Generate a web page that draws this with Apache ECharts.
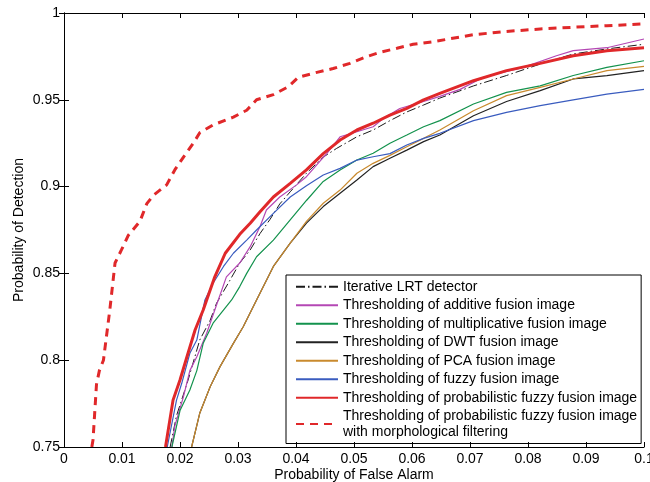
<!DOCTYPE html>
<html>
<head>
<meta charset="utf-8">
<script src="https://cdn.jsdelivr.net/npm/echarts@6/dist/echarts.min.js"></script>
<style>
  html, body { margin: 0; padding: 0; background: #fff; }
  #chart { width: 650px; height: 482px; }
</style>
</head>
<body>
<div id="chart"></div>
<script>
// ROC curves: [probability of false alarm, probability of detection]
const lrtDetector = [
  [0.0183,0.75],[0.0194,0.768],[0.0214,0.7886],[0.0234,0.8116],[0.0252,0.823],[0.0263,0.8328],
  [0.0286,0.846],[0.0303,0.856],[0.0321,0.8635],[0.0338,0.873],[0.0355,0.881],[0.0372,0.890],
  [0.039,0.897],[0.0418,0.9077],[0.0447,0.917],[0.047,0.922],[0.0505,0.9287],[0.0533,0.9326],
  [0.0562,0.938],[0.0591,0.943],[0.062,0.947],[0.0648,0.951],[0.0706,0.958],[0.0763,0.964],
  [0.0821,0.9706],[0.0878,0.9764],[0.0936,0.9793],[0.1,0.982]
];
const additiveFusion = [
  [0.0186,0.75],[0.0191,0.762],[0.0206,0.779],[0.0217,0.794],[0.0229,0.802],[0.0246,0.8155],
  [0.0266,0.8347],[0.028,0.848],[0.0303,0.856],[0.0321,0.8654],[0.0338,0.877],[0.0349,0.8865],
  [0.0372,0.894],[0.0401,0.901],[0.0418,0.9057],[0.0441,0.9145],[0.0453,0.919],[0.0476,0.9287],
  [0.0505,0.9316],[0.0533,0.9345],[0.0551,0.9393],[0.0579,0.945],[0.062,0.949],[0.0648,0.952],
  [0.0683,0.956],[0.0723,0.963],[0.0792,0.9687],[0.0849,0.9754],[0.0878,0.9783],[0.0936,0.980],
  [0.1,0.985]
];
const multiplicativeFusion = [
  [0.0186,0.75],[0.02,0.771],[0.0217,0.7828],[0.0229,0.794],[0.024,0.8097],[0.0257,0.8213],
  [0.0289,0.8347],[0.0303,0.8424],[0.0315,0.85],[0.0332,0.8596],[0.0361,0.8692],[0.039,0.8808],
  [0.0418,0.892],[0.0447,0.903],[0.0476,0.9096],[0.0505,0.9153],[0.0533,0.9192],[0.0562,0.925],
  [0.0591,0.9297],[0.062,0.9345],[0.0648,0.938],[0.0706,0.9476],[0.0763,0.9543],[0.0821,0.958],
  [0.0878,0.964],[0.0936,0.9687],[0.1,0.9725]
];
const dwtFusion = [
  [0.022,0.75],[0.0234,0.7694],[0.0252,0.7847],[0.0269,0.7963],[0.0292,0.8097],[0.0309,0.8193],
  [0.0332,0.8347],[0.0361,0.854],[0.039,0.8674],[0.0418,0.879],[0.0447,0.8885],[0.0476,0.8962],
  [0.0505,0.9038],[0.0533,0.9115],[0.0562,0.9163],[0.0591,0.921],[0.062,0.9259],[0.0648,0.9297],
  [0.0706,0.9408],[0.0763,0.949],[0.0821,0.9553],[0.0878,0.962],[0.0936,0.9639],[0.1,0.9668]
];
const pcaFusion = [
  [0.022,0.75],[0.0234,0.7694],[0.0252,0.7847],[0.0269,0.7963],[0.0292,0.8097],[0.0309,0.8193],
  [0.0332,0.8347],[0.0361,0.854],[0.039,0.8674],[0.0418,0.8800],[0.0447,0.8904],[0.0476,0.898],
  [0.0505,0.9077],[0.0533,0.9134],[0.0562,0.918],[0.0591,0.923],[0.062,0.9278],[0.0648,0.9326],
  [0.0706,0.9437],[0.0763,0.9524],[0.0821,0.9572],[0.0878,0.962],[0.0936,0.9668],[0.1,0.9693]
];
const fuzzyFusion = [
  [0.0178,0.75],[0.0194,0.777],[0.0203,0.7867],[0.0217,0.804],[0.0229,0.8116],[0.0237,0.825],
  [0.0243,0.8347],[0.0257,0.8443],[0.0275,0.854],[0.0292,0.8616],[0.0315,0.8692],[0.0332,0.875],
  [0.0361,0.8846],[0.039,0.894],[0.0418,0.9005],[0.0447,0.9067],[0.0476,0.9105],[0.0505,0.9153],
  [0.0533,0.9172],[0.0562,0.919],[0.0591,0.924],[0.062,0.9278],[0.0648,0.9307],[0.0706,0.938],
  [0.0763,0.9428],[0.0821,0.9466],[0.0878,0.95],[0.0936,0.9533],[0.1,0.956]
];
const probFuzzyFusion = [
  [0.0175,0.75],[0.0188,0.777],[0.02,0.7886],[0.0212,0.802],[0.0226,0.8174],[0.024,0.8289],
  [0.0246,0.8347],[0.026,0.848],[0.0278,0.8616],[0.0303,0.8725],[0.0321,0.8789],[0.0338,0.8855],
  [0.0361,0.894],[0.039,0.9019],[0.0418,0.9096],[0.0447,0.919],[0.0476,0.9268],[0.0505,0.9326],
  [0.0533,0.9365],[0.0562,0.9412],[0.0591,0.9451],[0.062,0.950],[0.0648,0.9537],[0.0706,0.961],
  [0.0763,0.9668],[0.0821,0.971],[0.0878,0.9754],[0.0936,0.9783],[0.1,0.980]
];
const probFuzzyMorph = [
  [0.0048,0.75],[0.005,0.754],[0.0056,0.786],[0.0061,0.794],[0.0068,0.800],[0.0079,0.829],
  [0.0088,0.856],[0.0099,0.8635],[0.0111,0.872],[0.0131,0.880],[0.01425,0.890],[0.0154,0.895],
  [0.0177,0.901],[0.0191,0.9096],[0.0206,0.917],[0.0223,0.925],[0.0234,0.931],[0.0257,0.9355],
  [0.0292,0.940],[0.0315,0.944],[0.0332,0.950],[0.0361,0.953],[0.0387,0.9576],[0.0404,0.963],
  [0.0436,0.9658],[0.0464,0.968],[0.0493,0.971],[0.0522,0.9749],[0.0545,0.9774],[0.0574,0.9797],
  [0.0602,0.982],[0.0637,0.9835],[0.0706,0.9875],[0.0763,0.9894],[0.0821,0.9908],[0.0878,0.9918],
  [0.0936,0.9927],[0.1,0.9937]
];

const seriesNames = [
  'Iterative LRT detector',
  'Thresholding of additive fusion image',
  'Thresholding of multiplicative fusion image',
  'Thresholding of DWT fusion image',
  'Thresholding of PCA fusion image',
  'Thresholding of fuzzy fusion image',
  'Thresholding of probabilistic fuzzy fusion image',
  'Thresholding of probabilistic fuzzy fusion image\nwith morphological filtering'
];
const xTicks = { min: 0, max: 0.1, interval: 0.01 };
const yTicks = { min: 0.75, max: 1, interval: 0.05 };

const FONT = "'Liberation Sans', Arial, sans-serif";

function curve(name, data, color, width, type) {
  return {
    name: name,
    type: 'line',
    data: data,
    symbol: 'none',
    showSymbol: false,
    smooth: false,
    animation: false,
    color: color,
    lineStyle: { color: color, width: width, type: type || 'solid' }
  };
}

const chart = echarts.init(document.getElementById('chart'), null, { renderer: 'canvas' });

const axisCommon = {
  type: 'value',
  axisLine: { show: true, lineStyle: { color: '#000', width: 1 } },
  axisTick: { show: true, inside: true, length: 5, lineStyle: { color: '#000', width: 1 } },
  splitLine: { show: false }
};

chart.setOption({
  backgroundColor: '#fff',
  animation: false,
  grid: { left: 64, right: 6, top: 13, bottom: 35, containLabel: false, outerBoundsMode: 'none' },
  xAxis: [
    Object.assign({}, axisCommon, {
      position: 'bottom',
      min: xTicks.min, max: xTicks.max, interval: xTicks.interval,
      z: 10,
      name: 'Probability of False Alarm',
      nameLocation: 'middle',
      nameGap: 21,
      nameMoveOverlap: false,
      nameTextStyle: { color: '#000', fontFamily: FONT, fontSize: 14 },
      axisLabel: { color: '#000', fontFamily: FONT, fontSize: 14, margin: 5 }
    }),
    Object.assign({}, axisCommon, {
      position: 'top',
      min: xTicks.min, max: xTicks.max, interval: xTicks.interval,
      z: 10,
      axisLabel: { show: false }
    })
  ],
  yAxis: [
    Object.assign({}, axisCommon, {
      position: 'left',
      min: yTicks.min, max: yTicks.max, interval: yTicks.interval,
      name: 'Probability of Detection',
      nameLocation: 'middle',
      nameGap: 38,
      nameMoveOverlap: false,
      nameTextStyle: { color: '#000', fontFamily: FONT, fontSize: 14 },
      axisLabel: { color: '#000', fontFamily: FONT, fontSize: 14, margin: 4 }
    }),
    Object.assign({}, axisCommon, {
      position: 'right',
      min: yTicks.min, max: yTicks.max, interval: yTicks.interval,
      z: 10,
      axisLabel: { show: false }
    })
  ],
  legend: {
    orient: 'vertical',
    left: 286,
    top: 275,
    itemWidth: 42,
    itemHeight: 14,
    itemGap: 3,
    padding: [4, 4, 4, 9],
    backgroundColor: '#fff',
    borderColor: '#000',
    borderWidth: 1,
    borderRadius: 0,
    selectedMode: false,
    itemStyle: { opacity: 0 },
    textStyle: { color: '#000', fontFamily: FONT, fontSize: 14, lineHeight: 15.5 },
    data: seriesNames
  },
  series: [
    curve(seriesNames[0], lrtDetector, '#1a1a1a', 1, [9, 3, 1.5, 3]),
    curve(seriesNames[1], additiveFusion, '#b447b4', 1.2),
    curve(seriesNames[2], multiplicativeFusion, '#13924d', 1.2),
    curve(seriesNames[3], dwtFusion, '#222222', 1.2),
    curve(seriesNames[4], pcaFusion, '#c98a2e', 1.2),
    curve(seriesNames[5], fuzzyFusion, '#3a5cbf', 1.2),
    curve(seriesNames[6], probFuzzyFusion, '#e0282a', 3),
    curve(seriesNames[7], probFuzzyMorph, '#e0282a', 3, [8, 6])
  ]
});
</script>
</body>
</html>
